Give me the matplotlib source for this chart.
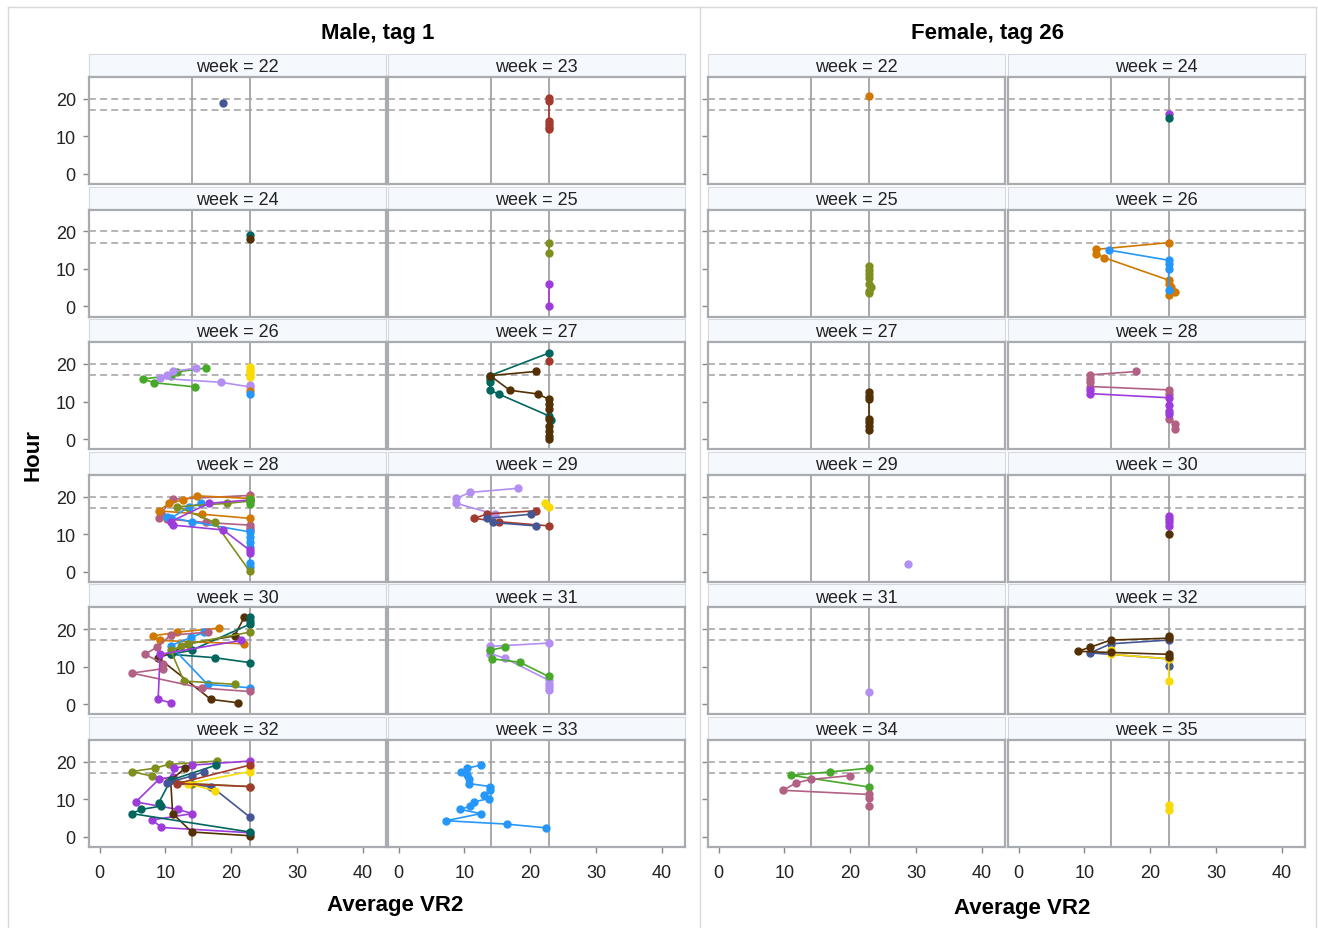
import matplotlib.pyplot as plt
from matplotlib.lines import Line2D

plt.rcParams['font.family'] = ['Liberation Sans', 'DejaVu Sans']

# group number -> SAS style colour
palette = {1: '#445694', 2: '#A23A2E', 3: '#01665E', 4: '#543005', 5: '#9D3CDB',
           6: '#7F8E1F', 7: '#2597FA', 8: '#B26084', 9: '#D17800', 10: '#47A82A',
           11: '#B38EF3', 12: '#F9DA04'}

male_weeks = [22, 23, 24, 25, 26, 27, 28, 29, 30, 31, 32, 33]
female_weeks = [22, 24, 25, 26, 27, 28, 29, 30, 31, 32, 34, 35]

ref_x = [14.0, 22.8]   # vertical reference lines
ref_y = [20, 17]       # dashed horizontal lines

# each panel: list of (group, x values, y values)
m22 = [(1, [18.8], [18.9])]
m23 = [(2, [22.8] * 6, [20.2, 19.4, 14.2, 13.4, 12.6, 12.0])]
m24 = [(3, [22.8], [19.0]), (4, [22.8], [18.0])]
m25 = [(6, [22.8, 22.8], [17.0, 14.3]), (5, [22.8, 22.8], [6.0, 0.2])]
m26 = [(10, [16.1, 11.8, 10.8, 6.6, 8.3, 14.5], [18.9, 17.9, 16.9, 16.0, 15.0, 13.9]),
       (11, [14.7, 11.1, 10.2, 9.2, 18.5, 22.8, 22.8], [18.9, 18.0, 17.1, 16.2, 15.1, 13.9, 14.5]),
       (12, [22.8] * 5, [19.1, 18.5, 17.8, 17.0, 16.4]),
       (9, [22.8], [12.9]),
       (7, [22.8], [11.9])]
m27 = [(3, [22.8, 13.9, 13.9, 13.9, 13.9, 15.2, 22.8, 23.2], [22.9, 16.9, 16.0, 15.1, 13.0, 12.0, 6.2, 5.0]),
       (2, [22.8], [20.9]),
       (4, [20.8, 13.9, 16.9, 21.2, 22.8, 22.8, 22.8, 22.8, 22.8, 22.8, 22.8, 22.8],
        [18.0, 16.9, 13.0, 12.0, 10.6, 9.3, 8.0, 5.3, 3.5, 2.2, 0.9, 0.0])]
m28 = [(8, [9.0, 9.3, 11.1, 22.8], [14.4, 15.5, 19.3, 20.3]),
       (8, [10.3, 16.1, 22.8, 22.8, 22.8], [14.0, 13.1, 12.4, 11.7, 11.1]),
       (9, [22.8, 15.6, 9.0, 10.6, 12.7, 14.8, 22.8], [14.2, 15.3, 16.2, 18.2, 19.1, 20.2, 19.5]),
       (7, [22.8, 22.8, 22.8, 22.8, 22.8, 22.8, 14.0, 10.3, 10.8, 13.6, 15.4],
        [1.3, 2.2, 6.6, 8.0, 9.3, 10.6, 13.3, 14.6, 14.2, 17.3, 18.2]),
       (6, [22.8, 17.5, 11.8, 19.4, 22.8], [0.1, 13.1, 17.3, 18.2, 18.8]),
       (5, [22.8, 22.8, 18.8, 11.2, 10.8, 16.6, 22.8], [4.9, 5.7, 11.1, 12.4, 13.3, 18.2, 19.1]),
       (10, [22.8, 22.8, 22.8], [19.3, 18.7, 17.9])]
m29 = [(11, [18.1, 10.8, 8.8, 8.8, 14.6], [22.2, 21.1, 19.5, 18.2, 15.3]),
       (2, [20.8, 13.5, 11.5, 15.2, 22.8], [16.2, 15.4, 14.2, 13.3, 12.2]),
       (1, [20.1, 13.5, 14.3, 20.8], [15.3, 14.2, 13.1, 12.2]),
       (12, [22.2, 22.8], [18.2, 17.1])]
m30 = [(4, [22.0, 20.5, 13.4, 10.8, 8.9, 16.9, 21.0], [23.3, 18.2, 16.1, 13.5, 12.4, 1.3, 0.4]),
       (3, [22.8, 22.8, 22.8, 14.0, 10.8, 17.5, 22.8], [23.3, 22.2, 21.3, 14.4, 13.3, 12.4, 11.1]),
       (9, [22.0, 9.2, 8.1, 11.8, 18.2], [16.1, 17.0, 18.2, 19.2, 20.3]),
       (7, [22.8, 16.4, 10.8, 13.9, 15.9], [4.4, 5.3, 15.6, 17.8, 19.2]),
       (6, [22.8, 13.4, 12.4, 10.8, 12.8, 20.5], [19.2, 16.1, 15.4, 14.4, 6.2, 5.3]),
       (8, [16.4, 10.8, 8.8, 6.9, 9.7, 9.7, 4.9, 15.6, 22.8], [19.2, 18.4, 15.3, 13.3, 10.8, 9.5, 8.3, 4.3, 3.4]),
       (5, [21.5, 9.2, 8.9, 10.8], [17.0, 13.3, 1.3, 0.4])]
m31 = [(11, [22.8, 13.9, 13.9, 13.9, 16.1, 22.8, 22.8, 22.8, 22.8], [16.3, 15.4, 14.4, 13.5, 12.3, 6.4, 5.5, 4.6, 3.9]),
       (10, [16.1, 13.9, 14.2, 18.4, 22.8], [15.2, 14.4, 12.1, 11.2, 7.4])]
m32 = [(6, [17.9, 10.5, 8.4, 4.9, 7.9, 14.0, 22.8], [20.2, 19.3, 18.3, 17.4, 16.2, 14.2, 13.4]),
       (5, [22.8, 14.0, 11.3, 11.1, 9.0, 5.5, 11.9, 14.1, 8.0, 9.4, 22.8],
        [20.2, 19.1, 18.3, 16.0, 15.3, 9.3, 7.3, 6.2, 4.5, 2.5, 1.1]),
       (4, [13.0, 10.8, 11.1, 14.0, 22.8], [18.3, 15.1, 6.2, 1.3, 0.3]),
       (3, [17.7, 10.8, 9.0, 9.4, 6.3, 4.9, 22.8], [19.1, 15.1, 9.1, 8.2, 7.3, 6.2, 1.3]),
       (1, [15.9, 14.0, 10.2, 17.0, 22.8], [17.4, 16.2, 14.4, 13.4, 5.3]),
       (12, [22.8, 22.8, 13.4, 17.5], [18.3, 17.4, 14.2, 12.3]),
       (2, [22.8, 11.8, 22.8], [19.1, 14.2, 13.4])]
m33 = [(7, [12.5, 10.4, 9.5, 10.4, 10.7, 10.7, 13.9, 13.9, 13.0, 13.7, 11.4, 10.9, 9.4, 12.5, 7.2, 16.4, 22.4],
        [19.1, 18.3, 17.2, 16.5, 15.3, 14.2, 13.4, 12.5, 11.1, 10.2, 9.3, 8.2, 7.3, 6.2, 4.3, 3.4, 2.4])]

f22 = [(9, [22.8], [20.8])]
f24 = [(5, [22.8], [16.0]), (3, [22.8], [14.8])]
f25 = [(6, [22.8, 22.8, 22.8, 22.8, 22.8, 23.2, 22.8, 22.8], [10.8, 9.7, 8.6, 7.5, 6.1, 5.2, 4.2, 3.6])]
f26 = [(9, [22.8, 11.8, 11.8, 13.0, 22.8, 22.8, 23.2, 23.8, 22.8], [17.0, 15.2, 14.1, 13.0, 7.0, 6.1, 5.2, 3.9, 3.0]),
       (7, [13.8, 22.8, 22.8, 22.8, 22.8], [15.0, 12.3, 11.4, 10.1, 4.3])]
f27 = [(4, [22.8] * 7, [12.5, 11.6, 10.7, 5.4, 4.5, 3.6, 2.3])]
f28 = [(8, [17.9, 10.9, 10.9, 10.9, 10.9, 22.8, 22.8, 22.8, 23.8, 23.8],
        [18.0, 17.1, 16.1, 15.2, 14.0, 13.1, 12.1, 5.4, 4.0, 2.7]),
       (5, [10.9, 10.9, 22.8, 22.8, 22.8, 22.8], [13.0, 12.1, 11.0, 9.0, 7.6, 6.7])]
f29 = [(11, [28.7], [2.1])]
f30 = [(5, [22.8] * 4, [14.9, 14.0, 13.1, 12.2]), (4, [22.8], [10.1])]
f31 = [(11, [22.8], [3.2])]
f32 = [(1, [22.8, 14.0, 10.9, 22.8, 22.8], [17.1, 16.1, 13.7, 12.1, 10.1]),
       (12, [14.0, 14.0, 22.8, 22.8], [14.4, 13.3, 12.1, 6.2]),
       (4, [22.8, 22.8, 14.0, 10.9, 9.0, 14.0, 22.8, 22.8], [18.2, 17.6, 17.1, 15.2, 14.1, 13.8, 13.3, 12.5])]
f34 = [(10, [22.8, 16.9, 11.0, 22.8], [18.3, 17.3, 16.4, 13.3]),
       (8, [19.9, 14.0, 11.7, 9.8, 22.8, 22.8, 22.8], [16.3, 15.3, 14.3, 12.4, 11.3, 10.4, 8.2])]
f35 = [(12, [22.8, 22.8], [8.4, 7.2])]

male_data = [m22, m23, m24, m25, m26, m27, m28, m29, m30, m31, m32, m33]
female_data = [f22, f24, f25, f26, f27, f28, f29, f30, f31, f32, f34, f35]

W, H = 1318, 929
fig = plt.figure(figsize=(W / 100, H / 100), dpi=100)


def add_px(x, y, w, h):
    # axes from pixel box, y measured from the top
    return fig.add_axes([x / W, 1 - (y + h) / H, w / W, h / H])


def fig_line(xs, ys, **kw):
    fig.add_artist(Line2D([x / W for x in xs], [1 - y / H for y in ys],
                          transform=fig.transFigure, **kw))


# outer frame and group divider
fig_line([8, 8], [8, 929], color='#D9D9D9', lw=1)
fig_line([8, 1316], [8, 8], color='#D9D9D9', lw=1)
fig_line([1316, 1316], [8, 929], color='#D9D9D9', lw=1)
fig_line([700, 700], [8, 929], color='#D9D9D9', lw=1)

col_left = [[89, 388], [708, 1008]]
pw = 297
row_top = [55 + i * 132.6 for i in range(6)]

groups = [(male_weeks, male_data), (female_weeks, female_data)]
for g, (weeks, data) in enumerate(groups):
    for k in range(12):
        r, c = divmod(k, 2)
        x0 = col_left[g][c]
        y0 = row_top[r]

        hdr = add_px(x0, y0, pw, 22)
        hdr.set_facecolor('#F5F8FD')
        hdr.set_xticks([])
        hdr.set_yticks([])
        for s in hdr.spines.values():
            s.set_color('#D5D8DE')
        hdr.text(0.5, 0.42, f'week = {weeks[k]}', ha='center', va='center',
                 fontsize=13, color='#222222', transform=hdr.transAxes)

        ax = add_px(x0, y0 + 23, pw, 107)
        for xv in ref_x:
            ax.axvline(xv, color='#A3A3A3', lw=1.3, zorder=1)
        for yv in ref_y:
            ax.axhline(yv, color='#A0A0A0', lw=1.1, ls=(0, (4.5, 2.8)), zorder=1)
        for grp, xs, ys in data[k]:
            ax.plot(xs, ys, '-o', color=palette[grp], lw=1.2, ms=5, zorder=3)

        ax.set_xlim(-1.6, 43.5)
        ax.set_ylim(-2.7, 25.8)
        for s in ax.spines.values():
            s.set_color('#A8ABB0')
            s.set_linewidth(1.6)

        ax.set_yticks([0, 10, 20])
        ax.set_xticks([0, 10, 20, 30, 40])
        ax.tick_params(colors='#888888', labelcolor='#222222', labelsize=13,
                       length=4.5, width=1, pad=5)
        ax.tick_params(axis='x', pad=8)
        ax.tick_params(axis='y', left=(c == 0), labelleft=(c == 0 and g == 0))
        ax.tick_params(axis='x', bottom=(r == 5), labelbottom=(r == 5))

# titles and axis labels
fig.text(378 / W, 1 - 33 / H, 'Male, tag 1', ha='center', va='center',
         fontsize=16, fontweight='bold')
fig.text(988 / W, 1 - 33 / H, 'Female, tag 26', ha='center', va='center',
         fontsize=16, fontweight='bold')
fig.text(395 / W, 1 - 906 / H, 'Average VR2', ha='center', va='center',
         fontsize=16, fontweight='bold')
fig.text(1022 / W, 1 - 909 / H, 'Average VR2', ha='center', va='center',
         fontsize=16, fontweight='bold')
fig.text(33 / W, 1 - 455 / H, 'Hour', ha='center', va='center', rotation=90,
         fontsize=16, fontweight='bold')

fig.savefig('out.png', dpi=100)
